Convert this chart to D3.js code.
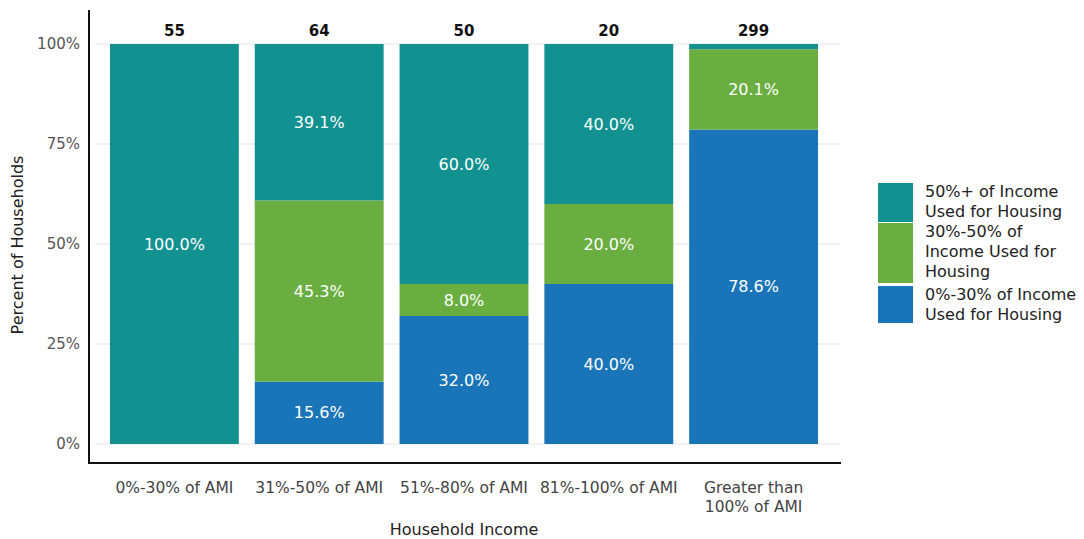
<!DOCTYPE html>
<html><head><meta charset="utf-8">
<script src="https://cdn.jsdelivr.net/npm/d3@7"></script>
<style>body{margin:0;background:#fff;} svg{display:block;}</style>
</head><body>
<svg id="c" width="1084" height="539"></svg>
<script>
const categories = ["0%-30% of AMI", "31%-50% of AMI", "51%-80% of AMI", "81%-100% of AMI", "Greater than 100% of AMI"];
const categoryLines = [["0%-30% of AMI"], ["31%-50% of AMI"], ["51%-80% of AMI"], ["81%-100% of AMI"], ["Greater than", "100% of AMI"]];
const totals = [55, 64, 50, 20, 299];
const low = [0, 15.6, 32.0, 40.0, 78.6];     // 0%-30% of income
const mid = [0, 45.3, 8.0, 20.0, 20.1];      // 30%-50%
const high = [100.0, 39.1, 60.0, 40.0, 1.3]; // 50%+
const seriesNames = ["0%-30% of Income Used for Housing", "30%-50% of Income Used for Housing", "50%+ of Income Used for Housing"];
const legendLines = [["50%+ of Income", "Used for Housing"], ["30%-50% of", "Income Used for", "Housing"], ["0%-30% of Income", "Used for Housing"]];
const yTicks = [0, 25, 50, 75, 100];
const colors = ["#1a75b8", "#6aae41", "#11918f"];

const font = "'DejaVu Sans', Verdana, sans-serif";
const svg = d3.select("#c").style("font-family", font);

const x = d3.scaleBand().domain(categories).range([102, 826]).paddingInner(0.11).paddingOuter(0.055);
const y = d3.scaleLinear().domain([0, 100]).range([444, 44]);

// gridlines
svg.append("g").selectAll("line").data(yTicks).join("line")
  .attr("x1", 95).attr("x2", 840)
  .attr("y1", d => y(d)).attr("y2", d => y(d))
  .attr("stroke", "#e3e3e3").attr("stroke-width", 1);

const rows = categories.map((c, i) => ({cat: c, s0: low[i], s1: mid[i], s2: high[i]}));
const stack = d3.stack().keys(["s0", "s1", "s2"])(rows);

const g = svg.append("g");
stack.forEach((layer, k) => {
  g.append("g").selectAll("rect").data(layer).join("rect")
    .attr("x", d => x(d.data.cat)).attr("width", x.bandwidth())
    .attr("y", d => y(d[1])).attr("height", d => y(d[0]) - y(d[1]))
    .attr("fill", colors[k]);
  g.append("g").selectAll("text").data(layer.filter(d => d[1] - d[0] >= 5)).join("text")
    .attr("x", d => x(d.data.cat) + x.bandwidth() / 2)
    .attr("y", d => y((d[0] + d[1]) / 2))
    .attr("dy", "0.35em").attr("text-anchor", "middle")
    .attr("fill", "#fff").style("font-size", "16px")
    .text(d => (d[1] - d[0]).toFixed(1) + "%");
});

// totals
svg.append("g").selectAll("text").data(categories).join("text")
  .attr("x", d => x(d) + x.bandwidth() / 2).attr("y", 36)
  .attr("text-anchor", "middle").style("font-size", "15px").style("font-weight", "bold").attr("fill", "#111")
  .text((d, i) => totals[i]);

// y axis
const yAxis = d3.axisLeft(y).tickValues(yTicks).tickFormat(d => d + "%").tickSize(0).tickPadding(9);
const ya = svg.append("g").attr("transform", "translate(89,0)").call(yAxis);
ya.select(".domain").remove();
ya.selectAll("text").style("font-size", "15px").style("font-family", font).attr("fill", "#555");
svg.append("line").attr("x1", 89).attr("x2", 89).attr("y1", 10).attr("y2", 464).attr("stroke", "#111").attr("stroke-width", 2);

// x axis
svg.append("line").attr("x1", 88).attr("x2", 841).attr("y1", 463).attr("y2", 463).attr("stroke", "#111").attr("stroke-width", 2);
const xa = svg.append("g").attr("transform", "translate(0,463)").call(d3.axisBottom(x).tickSize(0).tickFormat(""));
xa.select(".domain").remove();
xa.selectAll(".tick").each(function(d, i) {
  const t = d3.select(this).append("text").attr("fill", "#444").attr("text-anchor", "middle")
    .style("font-size", "15.5px").style("font-family", font);
  categoryLines[i].forEach((ln, j) => t.append("tspan").attr("x", 0).attr("y", 30 + j * 19).text(ln));
});

// axis titles
svg.append("text").attr("x", 464).attr("y", 535).attr("text-anchor", "middle")
  .style("font-size", "16px").attr("fill", "#222").text("Household Income");
svg.append("text").attr("transform", "translate(23,245) rotate(-90)").attr("text-anchor", "middle")
  .style("font-size", "16px").attr("fill", "#222").text("Percent of Households");

// legend
const legY = [183, 223, 286];
const legH = [39, 60, 37];
const legColors = [colors[2], colors[1], colors[0]];
const lg = svg.append("g");
legendLines.forEach((lines, i) => {
  lg.append("rect").attr("x", 878).attr("y", legY[i]).attr("width", 35).attr("height", legH[i]).attr("fill", legColors[i]);
  const t = lg.append("text").style("font-size", "16px").attr("fill", "#222");
  lines.forEach((ln, j) => t.append("tspan").attr("x", 925).attr("y", legY[i] + 14 + j * 19.8).text(ln));
});
</script>
</body></html>
